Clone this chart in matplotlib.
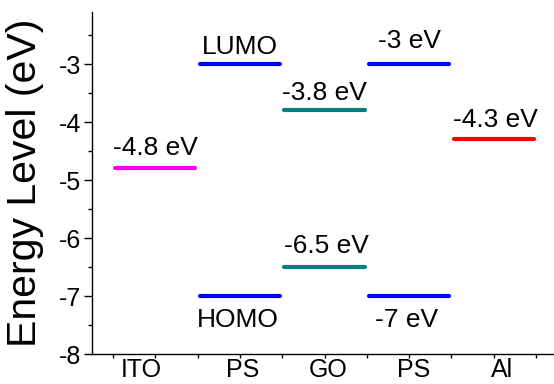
import numpy as np
import matplotlib
matplotlib.use("Agg")
import matplotlib.pyplot as plt

plt.rcParams['font.family'] = ['Liberation Sans', 'DejaVu Sans']
plt.rcParams['axes.unicode_minus'] = False

# layers along the device, left to right
layers = ['ITO', 'PS', 'GO', 'PS', 'Al']

# energy levels (eV): (layer index, value, colour, label)
level_slot = [0, 1, 1, 2, 2, 3, 3, 4]
level_value = [-4.8, -3.0, -7.0, -3.8, -6.5, -3.0, -7.0, -4.3]
level_color = ['#ff00ff', '#0000ff', '#0000ff', '#008080', '#008080',
               '#0000ff', '#0000ff', '#ff0000']
level_text = ['-4.8 eV', 'LUMO', 'HOMO', '-3.8 eV', '-6.5 eV',
              '-3 eV', '-7 eV', '-4.3 eV']
# where each label sits relative to its bar (eV, baseline)
text_dy = [0.23, 0.17, -0.53, 0.18, 0.24, 0.28, -0.53, 0.21]
text_dx = [0.0, 0.0, -0.02, 0.0, 0.02, 0.0, -0.03, 0.02]

# category label centres (slightly off the bar centres, as in the original)
layer_label_x = [0.34, 1.53, 2.54, 3.55, 4.60]

fig = plt.figure(figsize=(5.54, 3.84), dpi=100)
ax = fig.add_axes([92 / 554, 1 - 354 / 384, 462 / 554, 342 / 384])

for s, v, c, t, dy, dx in zip(level_slot, level_value, level_color,
                              level_text, text_dy, text_dx):
    ax.plot([s + 0.025, s + 0.975], [v, v], color=c, lw=3,
            solid_capstyle='round')
    ax.text(s + 0.5 + dx, v + dy, t, ha='center', va='baseline', fontsize=19)

ax.set_xlim(-0.2485, 5.213)
ax.set_ylim(-8, -2.103)

ax.spines['top'].set_visible(False)
ax.spines['right'].set_visible(False)
for sp in ('left', 'bottom'):
    ax.spines[sp].set_linewidth(1.0)

ax.set_xticks(np.arange(0, 5.01, 0.5))
ax.set_xticklabels([])
ax.set_xticks(layer_label_x, layers, minor=True)
ax.tick_params(axis='x', which='major', direction='out', length=3, width=1)
ax.tick_params(axis='x', which='minor', length=0, pad=3, labelsize=18)

ax.set_yticks(np.arange(-8, -2.9, 1))
ax.set_yticks(np.arange(-7.5, -2.4, 1), minor=True)
ax.tick_params(axis='y', which='major', direction='out', length=6, width=1,
               pad=1.5, labelsize=18)
ax.tick_params(axis='y', which='minor', direction='out', length=3, width=1)

ax.set_ylabel('Energy Level (eV)', fontsize=29.5)
ax.yaxis.set_label_coords(-0.103, 0.5)

fig.savefig('out.png', dpi=100)
